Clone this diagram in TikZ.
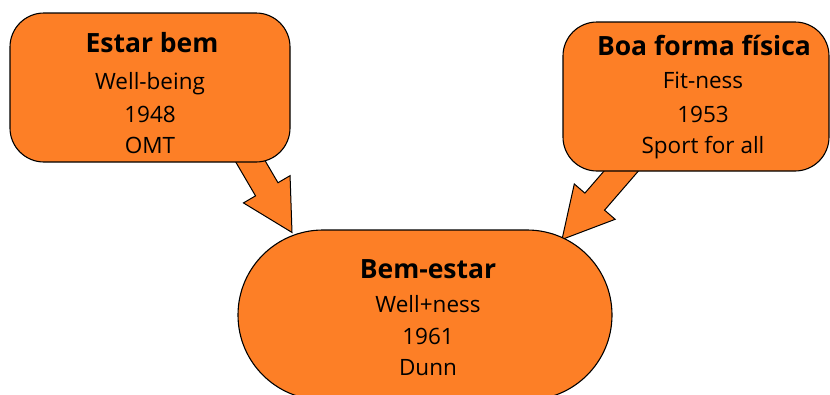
\documentclass[tikz,border=0pt]{standalone}
\usepackage{fontspec}
\setmainfont{Open Sans}
\usetikzlibrary{calc,backgrounds}

\definecolor{boxfill}{RGB}{253,127,38}

\tikzset{
  box/.style={draw=black, line width=1.1pt, fill=boxfill, inner sep=0pt,
              rounded corners=34pt, minimum width=280pt, minimum height=149pt},
  oval/.style={draw=black, line width=1.1pt, fill=boxfill, inner sep=0pt,
               rounded corners=85pt, minimum width=374pt, minimum height=170pt},
  head/.style={anchor=base, inner sep=0pt, font=\fontsize{26.5}{30}\selectfont\bfseries},
  line/.style={anchor=base, inner sep=0pt, font=\fontsize{22.5}{26}\selectfont},
  blockarrow/.style={draw=black, line width=1pt, fill=boxfill, line join=miter}
}

% block arrow from #1 (start) to #2 (tip): shaft half width 13, head half width 27, head length 50
\newcommand\blockarrow[2]{%
  \path ($(#2)!50pt!(#1)$) coordinate (hb);
  \draw[blockarrow]
    ($(#1)!13pt!90:(#2)$) -- ($(hb)!13pt!-90:(#1)$) -- ($(hb)!27pt!-90:(#1)$) --
    (#2) -- ($(hb)!27pt!90:(#1)$) -- ($(hb)!13pt!90:(#1)$) --
    ($(#1)!13pt!-90:(#2)$) -- cycle;
}

\begin{document}
\begin{tikzpicture}[x=1pt, y=-1pt]
  \useasboundingbox (0,0) rectangle (830,394);

  % the three concept shapes
  \node[box] (estar) at (150,87.5) {};
  \node[box, minimum width=266pt] (forma) at (696,96.5) {};
  \node[oval] (bem) at (425,315) {};

  % texts
  \node[head] (t1) at (152,52) {Estar bem};
  \node[line] (t2) at (150,89) {Well-being};
  \node[line] (t3) at (150,122) {1948};
  \node[line] (t4) at (150,153) {OMT};

  \node[head] (f1) at (704,55) {Boa forma física};
  \node[line] (f2) at (703,88) {Fit-ness};
  \node[line] (f3) at (703,122) {1953};
  \node[line] (f4) at (703,153) {Sport for all};

  \node[head] (b1) at (428,278) {Bem-estar};
  \node[line] (b2) at (428,312) {Well+ness};
  \node[line] (b3) at (428,344) {1961};
  \node[line] (b4) at (428,375) {Dunn};

  % arrows run under the shapes
  \begin{scope}[on background layer]
    \coordinate (as) at ($(estar.south)+(90,-19)$);
    \coordinate (at) at ($(bem.north)+(-133,3)$);
    \blockarrow{as}{at}
    \coordinate (fs) at ($(forma.south)+(-64,-13)$);
    \coordinate (ft) at ($(bem.north)+(137,10)$);
    \blockarrow{fs}{ft}
  \end{scope}
\end{tikzpicture}
\end{document}
